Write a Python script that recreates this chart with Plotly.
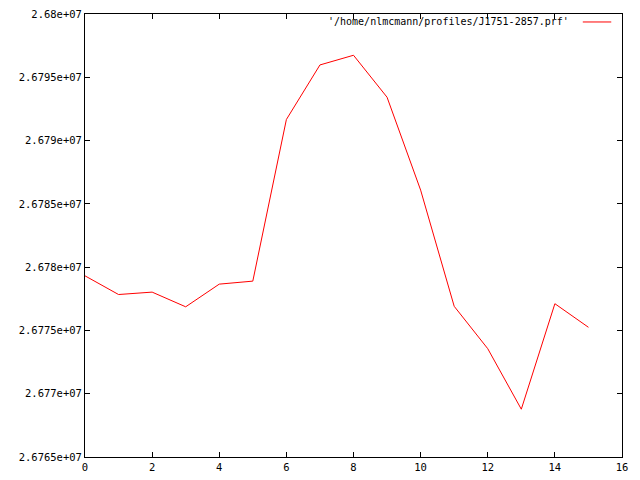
import plotly.graph_objects as go

# profile samples
bins = list(range(16))
flux = [26779313, 26777837, 26778027, 26776867, 26778658, 26778895,
        26791665, 26795975, 26796740, 26793425, 26786085, 26776906,
        26773557, 26768776, 26777111, 26775248]

x_ticks = [0, 2, 4, 6, 8, 10, 12, 14, 16]
y_ticks = [26765000, 26770000, 26775000, 26780000, 26785000, 26790000, 26795000, 26800000]
y_labels = ["2.6765e+07", "2.677e+07", "2.6775e+07", "2.678e+07",
            "2.6785e+07", "2.679e+07", "2.6795e+07", "2.68e+07"]
series_name = "'/home/nlmcmann/profiles/J1751-2857.prf'"

font = dict(family="DejaVu Sans Mono", size=10.5, color="black")

fig = go.Figure()
fig.add_trace(
    go.Scatter(
        x=bins,
        y=flux,
        mode="lines",
        line=dict(color="red", width=1),
        name=series_name,
    )
)

axis_style = dict(
    showline=True,
    linecolor="black",
    linewidth=1,
    mirror="allticks",
    ticks="inside",
    ticklen=5,
    tickcolor="black",
    showgrid=False,
    zeroline=False,
    tickfont=font,
    automargin=False,
    ticklabeloverflow="allow",
)

fig.update_xaxes(range=[0, 16], tickvals=x_ticks, **axis_style)
fig.update_yaxes(range=[26765000, 26800000], tickvals=y_ticks,
                 ticktext=y_labels, **axis_style)

# gnuplot-style key: text first, then the line sample
fig.add_annotation(
    x=0.905, y=0.982, xref="paper", yref="paper",
    text=series_name, showarrow=False,
    xanchor="right", yanchor="middle",
    font=dict(family="DejaVu Sans Mono", size=10, color="black"),
)
fig.add_shape(
    type="line", xref="paper", yref="paper",
    x0=0.927, x1=0.98, y0=0.982, y1=0.982,
    line=dict(color="red", width=1),
)

# page body adds an 8px offset, so the figure is sized to fit inside it
fig.update_layout(
    width=632,
    height=472,
    margin=dict(l=77, r=18, t=6, b=23),
    paper_bgcolor="white",
    plot_bgcolor="white",
    showlegend=False,
    font=font,
)

fig.write_html("out.html")
